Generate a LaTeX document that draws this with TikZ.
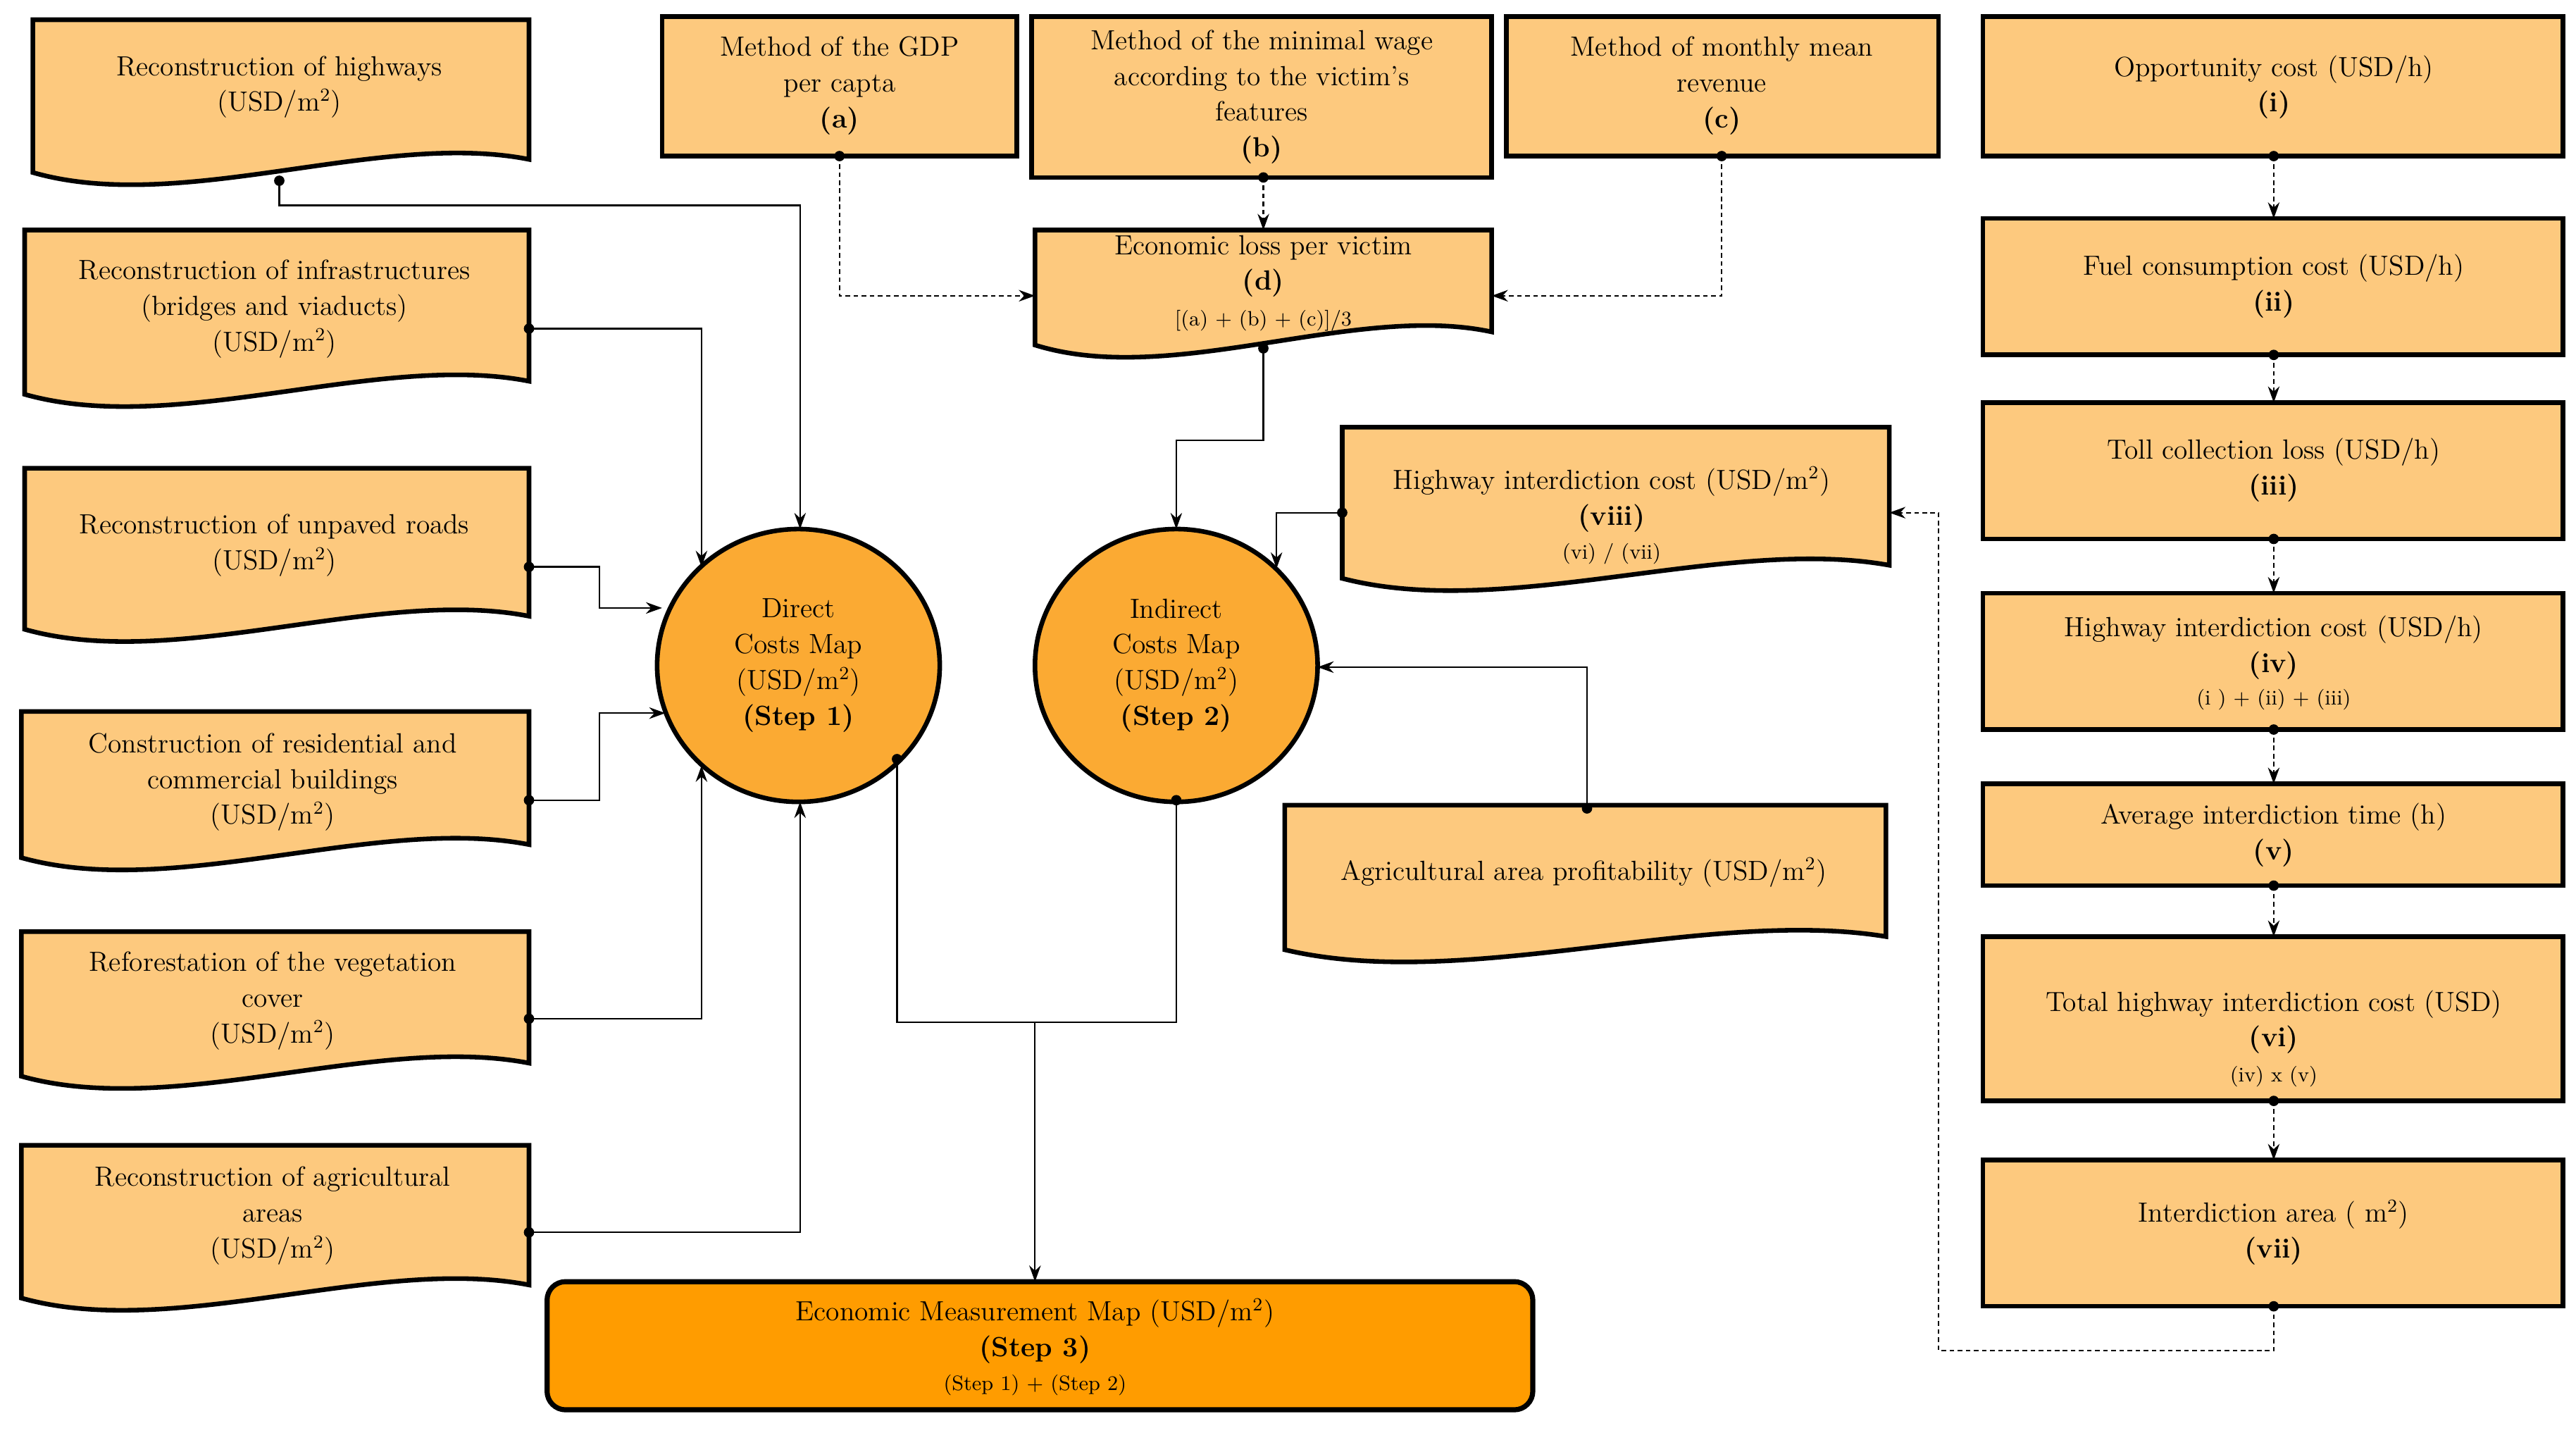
\documentclass[tikz,border=0pt]{standalone}
\usetikzlibrary{arrows.meta,shapes.geometric}
\definecolor{lt}{HTML}{FDC97E}
\definecolor{md}{HTML}{FBAA33}
\definecolor{dk}{HTML}{FF9C00}
\newcommand\docshape[4]{%
  \draw[box] (#1,#2) -- (#3,#2) -- (#3,{#4-8}) .. controls ({#3-0.3*(#3-#1)},{#4-26}) and ({#1+0.3*(#3-#1)},{#4+26}) .. (#1,#4) -- cycle;}
\begin{document}
\begin{tikzpicture}[x=0.025cm,y=-0.025cm,
  box/.style={draw=black,line width=2pt,fill=lt},
  txt/.style={align=center,font=\fontsize{12}{15.5}\selectfont,inner sep=0pt},
  sm/.style={font=\fontsize{9}{11}\selectfont},
  con/.style={line width=0.7pt,-{Stealth[length=7pt,width=5pt]}},
  dcon/.style={con,dash pattern=on 2pt off 1.5pt},
  dot/.style={fill=black,circle,inner sep=0pt,minimum size=4.5pt},
  circ/.style={draw=black,line width=2pt,fill=md,ellipse,inner sep=0pt,minimum width=4.3cm,minimum height=4.15cm}]
\useasboundingbox (0,0) rectangle (1568,872);
% left document boxes
\docshape{20}{12}{322}{105}
\node[txt] (hw) at (170,53) {Reconstruction of highways\\(USD/m$^2$)};
\docshape{15}{140}{322}{240}
\node[txt] (inf) at (167,188) {Reconstruction of infrastructures\\(bridges and viaducts)\\(USD/m$^2$)};
\docshape{15}{285}{322}{383}
\node[txt] (unp) at (167,332) {Reconstruction of unpaved roads\\(USD/m$^2$)};
\docshape{13}{433}{322}{522}
\node[txt] (res) at (166,476) {Construction of residential and\\commercial buildings\\(USD/m$^2$)};
\docshape{13}{567}{322}{655}
\node[txt] (ref) at (166,609) {Reforestation of the vegetation\\cover\\(USD/m$^2$)};
\docshape{13}{697}{322}{790}
\node[txt] (agr) at (166,740) {Reconstruction of agricultural\\areas\\(USD/m$^2$)};
% top boxes
\draw[box] (403,10) rectangle (619,95);
\node[txt] (a) at (511,52) {Method of the GDP\\per capta\\\textbf{(a)}};
\draw[box] (628,10) rectangle (908,108);
\node[txt] (b) at (768,59) {Method of the minimal wage\\according to the victim's\\features\\\textbf{(b)}};
\draw[box] (917,10) rectangle (1180,95);
\node[txt] (c) at (1048,52) {Method of monthly mean\\revenue\\\textbf{(c)}};
\docshape{630}{140}{908}{210}
\node[txt] (d) at (769,162) {Economic loss per victim\\\textbf{(d)}};
\node[txt,sm] (df) at (769,195) {[(a) + (b) + (c)]/3};
\docshape{817}{260}{1150}{352}
\node[txt] (h8) at (981,304) {Highway interdiction cost (USD/m$^2$)\\\textbf{(viii)}};
\node[txt,sm] (h8f) at (981,337) {(vi) / (vii)};
\docshape{782}{490}{1148}{578}
\node[txt] (ap) at (964,531) {Agricultural area profitability (USD/m$^2$)};
% circles
\node[circ] (dir) at (486,405) {};
\node[txt] (dirt) at (486,405) {Direct\\Costs Map\\(USD/m$^2$)\\\textbf{(Step 1)}};
\node[circ] (ind) at (716,405) {};
\node[txt] (indt) at (716,405) {Indirect\\Costs Map\\(USD/m$^2$)\\\textbf{(Step 2)}};
% right column
\foreach \n/\ya/\yb in {i/10/95,ii/133/216,iii/245/328,iv/361/444,v/477/539,vi/570/670,vii/706/795}
  \draw[box] (1207,\ya) rectangle (1560,\yb);
\node[txt] (ti) at (1384,53) {Opportunity cost (USD/h)\\\textbf{(i)}};
\node[txt] (tii) at (1384,174) {Fuel consumption cost (USD/h)\\\textbf{(ii)}};
\node[txt] (tiii) at (1384,286) {Toll collection loss (USD/h)\\\textbf{(iii)}};
\node[txt] (tiv) at (1384,394) {Highway interdiction cost (USD/h)\\\textbf{(iv)}};
\node[txt,sm] (tivf) at (1384,426) {(i ) + (ii) + (iii)};
\node[txt] (tv) at (1384,508) {Average interdiction time (h)\\\textbf{(v)}};
\node[txt] (tvi) at (1384,622) {Total highway interdiction cost (USD)\\\textbf{(vi)}};
\node[txt,sm] (tvif) at (1384,655) {(iv) x (v)};
\node[txt] (tvii) at (1384,750) {Interdiction area ( m$^2$)\\\textbf{(vii)}};
% bottom box
\draw[line width=2.2pt,fill=dk,rounded corners=8pt] (333,780) rectangle (933,858);
\node[txt] (em) at (630,810) {Economic Measurement Map (USD/m$^2$)\\\textbf{(Step 3)}};
\node[txt,sm] (emf) at (630,843) {(Step 1) + (Step 2)};
% coordinates
\coordinate (p1) at (170,110); \coordinate (p2) at (322,200); \coordinate (p3) at (322,345);
\coordinate (p4) at (322,487); \coordinate (p5) at (322,620); \coordinate (p6) at (322,750);
\coordinate (pa) at (511,95); \coordinate (pb) at (769,108); \coordinate (pc) at (1048,95);
\coordinate (pd) at (769,212); \coordinate (p8) at (817,312); \coordinate (pap) at (966,492);
\coordinate (pdir) at (546,462); \coordinate (pind) at (716,487); \coordinate (pj) at (630,622);
\coordinate (pem) at (630,780);
\foreach \p in {p1,p2,p3,p4,p5,p6,pa,pb,pc,pd,p8,pap,pdir,pind} \node[dot] at (\p) {};
% connectors
\draw[con] (p1) -- (170,125) -- (487,125) -- (487,322);
\draw[con] (p2) -- (427,200) -- (427,345);
\draw[con] (p3) -- (365,345) -- (365,370) -- (403,370);
\draw[con] (p4) -- (365,487) -- (365,434) -- (405,434);
\draw[con] (p5) -- (427,620) -- (427,466);
\draw[con] (p6) -- (487,750) -- (487,488);
\draw[dcon] (pa) -- (511,180) -- (630,180);
\draw[dcon] (pb) -- (769,140);
\draw[dcon] (pc) -- (1048,180) -- (908,180);
\draw[con] (pd) -- (769,268) -- (716,268) -- (716,322);
\draw[con] (p8) -- (777,312) -- (777,346);
\draw[con] (pap) -- (966,406) -- (802,406);
\draw[line width=0.7pt] (pdir) -- (546,622) -- (716,622) -- (pind);
\draw[con] (pj) -- (pem);
\foreach \a/\b in {95/133,216/245,328/361,444/477,539/570,670/706} {
  \node[dot] at (1384,\a) {};
  \draw[dcon] (1384,\a) -- (1384,\b);}
\node[dot] at (1384,795) {};
\draw[dcon] (1384,795) -- (1384,822) -- (1180,822) -- (1180,312) -- (1150,312);
\end{tikzpicture}
\end{document}
